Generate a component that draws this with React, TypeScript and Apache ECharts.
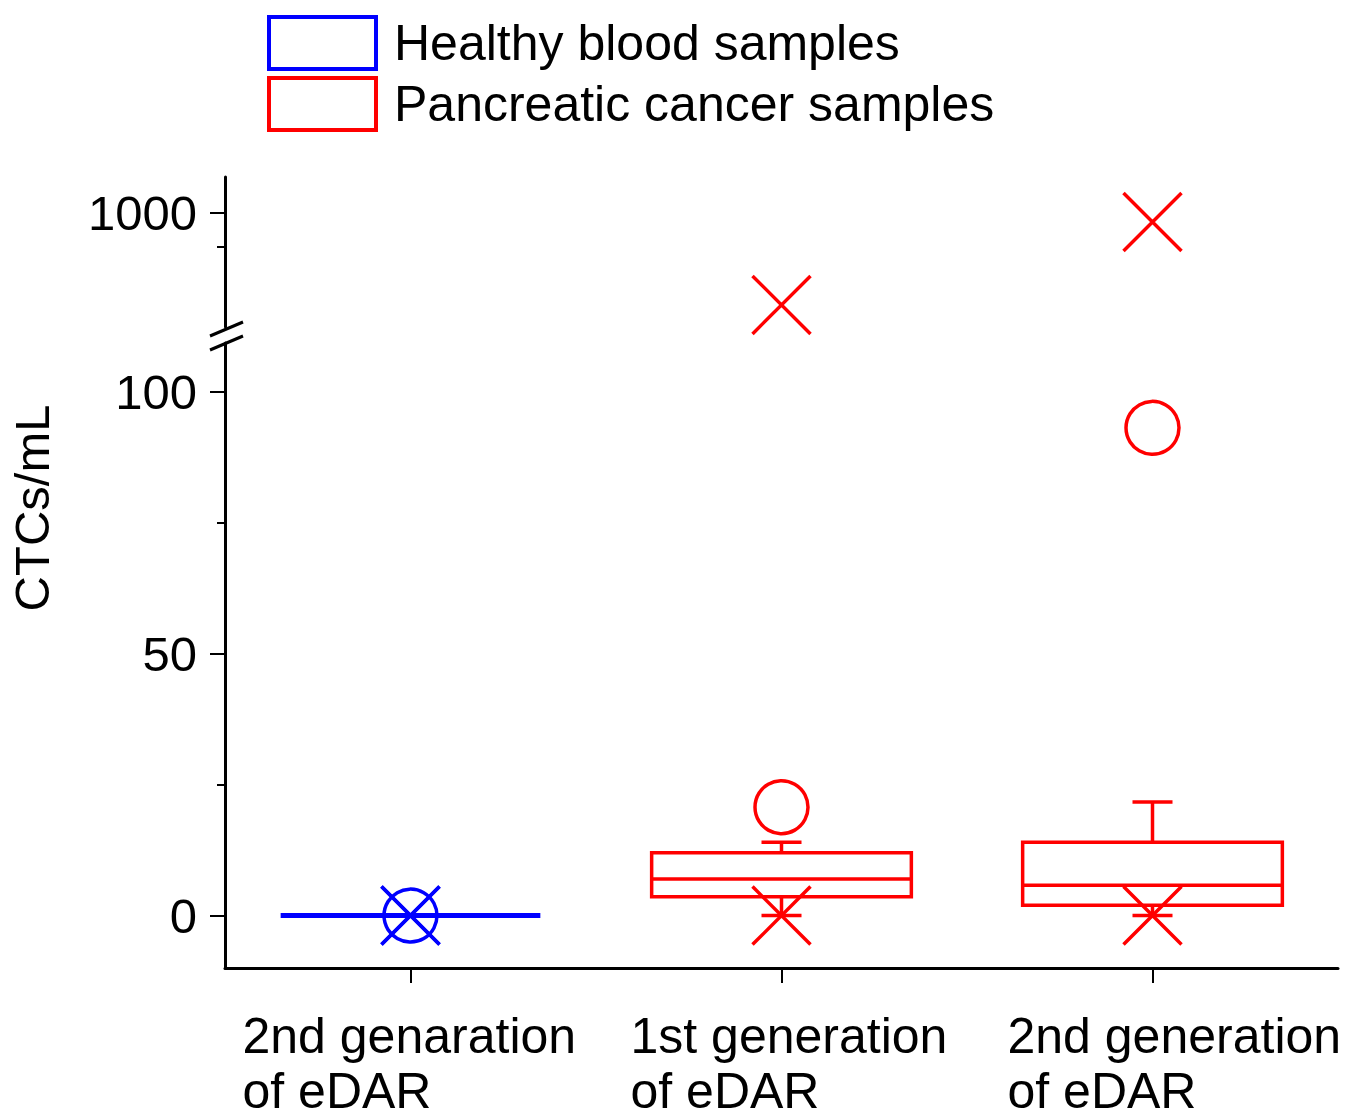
import React, { useEffect, useRef } from "react";
import * as echarts from "echarts";

// ---- data ----
const categories = ["2nd genaration\nof eDAR", "1st generation\nof eDAR", "2nd generation\nof eDAR"];
// [whisker low, Q1, median, Q3, whisker high]
const healthyBox = [0, 0, 0, 0, 0];
const cancerBox1st = [0, 3.6, 7.0, 12.0, 14.0];
const cancerBox2nd = [0, 2.0, 5.8, 14.0, 21.7];
const means = [0, 20.7, 93.1];
const minima = [0, 0, 0];
const maxima = [0, 730, 974];
const lowerTicks = [0, 50, 100];
const lowerMinorTicks = [25, 75];
const upperTicks = [1000];
const upperMinorTicks = [900];
const breakValue = 110;

const BLUE = "#0000ff";
const RED = "#ff0000";
const FONT = "'Liberation Sans', Arial, sans-serif";
const CROSS = "path://M0 0L10 10M10 0L0 10";

function boxRenderer(color: string, lw: number) {
  return (params: any, api: any) => {
    const idx = api.value(0);
    const lo = api.coord([idx, api.value(1)]);
    const q1 = api.coord([idx, api.value(2)]);
    const med = api.coord([idx, api.value(3)]);
    const q3 = api.coord([idx, api.value(4)]);
    const hi = api.coord([idx, api.value(5)]);
    const bw = api.size([1, 0])[0] * 0.7;
    const cx = med[0];
    const cap = 20;
    const style = { stroke: color, lineWidth: lw, fill: "none" };
    const children: any[] = [];
    const h = q1[1] - q3[1];
    if (h > 0.5) {
      children.push({ type: "rect", shape: { x: cx - bw / 2, y: q3[1], width: bw, height: h }, style });
    }
    children.push({ type: "line", shape: { x1: cx - bw / 2, y1: med[1], x2: cx + bw / 2, y2: med[1] }, style });
    children.push({ type: "line", shape: { x1: cx, y1: q3[1], x2: cx, y2: hi[1] }, style });
    children.push({ type: "line", shape: { x1: cx - cap, y1: hi[1], x2: cx + cap, y2: hi[1] }, style });
    children.push({ type: "line", shape: { x1: cx, y1: q1[1], x2: cx, y2: lo[1] }, style });
    children.push({ type: "line", shape: { x1: cx - cap, y1: lo[1], x2: cx + cap, y2: lo[1] }, style });
    return { type: "group", children };
  };
}

const labelLeft = [243, 630, 1006];
const labelCenter = [411, 781, 1151];

export default function App() {
  const ref = useRef<HTMLDivElement>(null);
  useEffect(() => {
    if (!ref.current) return;
    const chart = echarts.init(ref.current, null, { renderer: "svg" });
    const rich: any = {};
    categories.forEach((_, i) => {
      rich["c" + i] = {
        width: 2 * (labelCenter[i] - labelLeft[i]),
        align: "left",
        fontSize: 50,
        lineHeight: 55,
        fontFamily: FONT,
        color: "#000",
      };
    });
    const lowerMax = 109.3;
    const upperMin = 665;
    const upperMax = 1106;

    const splitMax = (arr: number[], upper: boolean) =>
      arr.map((v, i) => (upper ? (v > breakValue ? [i, v] : null) : v <= breakValue ? [i, v] : null)).filter((d) => d !== null);

    const markerStyle = (c: string) => ({ color: "transparent", borderColor: c, borderWidth: 3.5, opacity: 1 });

    const option: any = {
      animation: false,
      backgroundColor: "#fff",
      legend: {
        orient: "vertical",
        left: 267,
        top: 15,
        padding: 0,
        itemWidth: 107,
        itemHeight: 52,
        itemGap: 5,
        selectedMode: false,
        textStyle: { fontSize: 50, fontFamily: FONT, color: "#000", lineHeight: 52, padding: [0, 0, 0, 13] },
        data: [
          { name: "Healthy blood samples", icon: "rect", itemStyle: { color: "#fff", borderColor: BLUE, borderWidth: 4 } },
          { name: "Pancreatic cancer samples", icon: "rect", itemStyle: { color: "#fff", borderColor: RED, borderWidth: 4 } },
        ],
      },
      grid: [
        { left: 225, right: 9, top: 177, height: 150 },
        { left: 225, right: 9, top: 343, height: 625 },
      ],
      xAxis: [
        { type: "category", gridIndex: 0, data: categories, show: false },
        {
          type: "category",
          gridIndex: 1,
          data: categories,
          position: "bottom",
          axisLine: { show: true, onZero: false, lineStyle: { color: "#000", width: 3 } },
          axisTick: { show: true, interval: 0, inside: false, alignWithLabel: true, length: 15, lineStyle: { color: "#000", width: 2 } },
          axisLabel: {
            margin: 40,
            interval: 0,
            formatter: (v: string, i: number) =>
              v.split("\n").map((s) => `{c${i}|${s}}`).join("\n"),
            rich,
          },
        },
      ],
      yAxis: [
        {
          type: "value",
          gridIndex: 0,
          position: "left",
          min: upperMin,
          max: upperMax,
          splitLine: { show: false },
          axisLine: { show: true, onZero: false, lineStyle: { color: "#000", width: 3 } },
          axisTick: { show: true, length: 15, customValues: upperTicks, lineStyle: { color: "#000", width: 2 } },
          axisLabel: { customValues: upperTicks, formatter: (v: number) => String(v), fontSize: 49, fontFamily: FONT, color: "#000", margin: 28 },
        },
        {
          type: "value",
          gridIndex: 0,
          position: "left",
          offset: 0,
          min: upperMin,
          max: upperMax,
          splitLine: { show: false },
          axisLine: { show: false, onZero: false },
          axisTick: { show: true, length: 8, customValues: upperMinorTicks, lineStyle: { color: "#000", width: 2 } },
          axisLabel: { show: false },
        },
        {
          type: "value",
          gridIndex: 1,
          position: "left",
          min: -10,
          max: lowerMax,
          splitLine: { show: false },
          axisLine: { show: true, onZero: false, lineStyle: { color: "#000", width: 3 } },
          axisTick: { show: true, length: 15, customValues: lowerTicks, lineStyle: { color: "#000", width: 2 } },
          axisLabel: { customValues: lowerTicks, formatter: (v: number) => String(v), fontSize: 49, fontFamily: FONT, color: "#000", margin: 28 },
        },
        {
          type: "value",
          gridIndex: 1,
          position: "left",
          offset: 0,
          min: -10,
          max: lowerMax,
          splitLine: { show: false },
          axisLine: { show: false, onZero: false },
          axisTick: { show: true, length: 8, customValues: lowerMinorTicks, lineStyle: { color: "#000", width: 2 } },
          axisLabel: { show: false },
        },
      ],
      series: [
        {
          name: "Healthy blood samples",
          type: "custom",
          xAxisIndex: 1,
          yAxisIndex: 2,
          renderItem: boxRenderer(BLUE, 5),
          encode: { x: 0, y: [1, 2, 3, 4, 5] },
          itemStyle: { color: BLUE },
          data: [[0, ...healthyBox]],
          z: 3,
        },
        {
          name: "Pancreatic cancer samples",
          type: "custom",
          xAxisIndex: 1,
          yAxisIndex: 2,
          renderItem: boxRenderer(RED, 3.5),
          encode: { x: 0, y: [1, 2, 3, 4, 5] },
          itemStyle: { color: RED },
          data: [
            [1, ...cancerBox1st],
            [2, ...cancerBox2nd],
          ],
          z: 3,
        },
        {
          name: "mean",
          type: "scatter",
          xAxisIndex: 1,
          yAxisIndex: 2,
          symbol: "circle",
          symbolSize: 53,
          data: means.map((v, i) => ({ value: [i, v], itemStyle: markerStyle(i === 0 ? BLUE : RED) })),
          z: 4,
        },
        {
          name: "min",
          type: "scatter",
          xAxisIndex: 1,
          yAxisIndex: 2,
          symbol: CROSS,
          symbolSize: 58,
          data: minima.map((v, i) => ({ value: [i, v], itemStyle: markerStyle(i === 0 ? BLUE : RED) })),
          z: 4,
        },
        {
          name: "max-low",
          type: "scatter",
          xAxisIndex: 1,
          yAxisIndex: 2,
          symbol: CROSS,
          symbolSize: 58,
          data: (splitMax(maxima, false) as number[][]).map((d) => ({
            value: d,
            itemStyle: markerStyle(d[0] === 0 ? BLUE : RED),
          })),
          z: 4,
        },
        {
          name: "max-high",
          type: "scatter",
          xAxisIndex: 0,
          yAxisIndex: 0,
          symbol: CROSS,
          symbolSize: 58,
          data: (splitMax(maxima, true) as number[][]).map((d) => ({ value: d, itemStyle: markerStyle(RED) })),
          z: 4,
        },
      ],
      graphic: [
        {
          type: "line",
          shape: { x1: 210, y1: 336, x2: 243, y2: 322 },
          style: { stroke: "#000", lineWidth: 3 },
        },
        {
          type: "line",
          shape: { x1: 210, y1: 350, x2: 243, y2: 336 },
          style: { stroke: "#000", lineWidth: 3 },
        },
        {
          type: "text",
          x: 32,
          y: 508,
          rotation: Math.PI / 2,
          style: {
            text: "CTCs/mL",
            fontSize: 49,
            fontFamily: FONT,
            fill: "#000",
            align: "center",
            verticalAlign: "middle",
          },
        },
      ],
    };
    chart.setOption(option);
    return () => chart.dispose();
  }, []);
  return (
    <div
      ref={ref}
      style={{ position: "fixed", left: 0, top: 0, width: 1347, height: 1120, background: "#fff" }}
    />
  );
}
